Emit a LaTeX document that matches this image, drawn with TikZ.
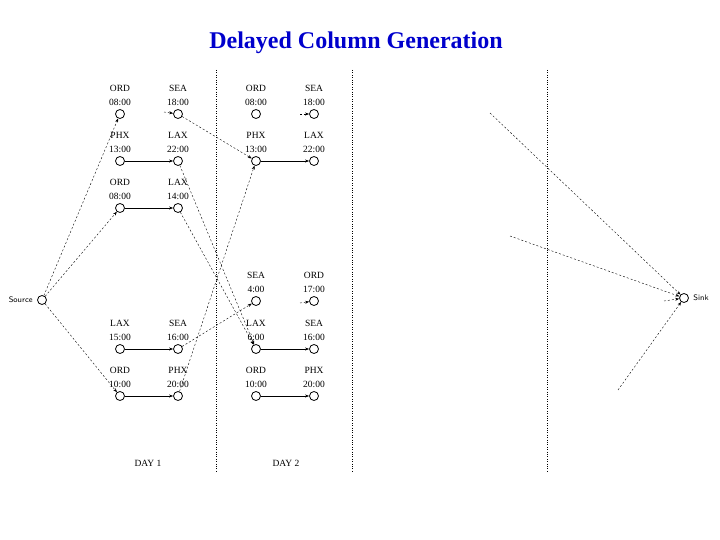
\documentclass[tikz,border=0pt]{standalone}
\usepackage{fontspec}
\setmainfont{Liberation Serif}
\usetikzlibrary{arrows.meta,positioning}
\begin{document}
\begin{tikzpicture}[x=1pt,y=-1pt,
  nd/.style={circle,draw,thick,minimum size=9pt,inner sep=0pt},
  lab/.style={font=\fontsize{9.5}{11}\selectfont,align=center,inner sep=0pt},
  fl/.style={-{Stealth[length=4pt]},thin},
  dl/.style={-{Stealth[length=4pt]},thin,dash pattern=on 2pt off 2pt},
  sep/.style={thin,dotted}]
\useasboundingbox (0,0) rectangle (720,540);
\node[font=\bfseries\fontsize{24}{28}\selectfont,text=blue!80!black] (title) at (356,43) {Delayed Column Generation};
\foreach \n/\x/\y/\a/\t in {
 a1/120/114/ORD/08:00, a2/178/114/SEA/18:00,
 b1/120/161/PHX/13:00, b2/178/161/LAX/22:00,
 c1/120/208/ORD/08:00, c2/178/208/LAX/14:00,
 d1/120/349/LAX/15:00, d2/178/349/SEA/16:00,
 e1/120/396/ORD/10:00, e2/178/396/PHX/20:00,
 f1/256/114/ORD/08:00, f2/314/114/SEA/18:00,
 g1/256/161/PHX/13:00, g2/314/161/LAX/22:00,
 h1/256/301/SEA/4:00, h2/314/301/ORD/17:00,
 i1/256/349/LAX/6:00, i2/314/349/SEA/16:00,
 j1/256/396/ORD/10:00, j2/314/396/PHX/20:00}{
 \node[nd] (\n) at (\x,\y) {};
 \node[lab,above=3pt of \n] (\n l) {\a\\[3pt]\t};
}
\node[nd] (src) at (42,300) {};
\node[font=\sffamily\fontsize{8}{9}\selectfont,left=1pt of src] (srcl) {Source};
\node[nd] (snk) at (684,298) {};
\node[font=\sffamily\fontsize{8}{9}\selectfont,right=1pt of snk] (snkl) {Sink};
\foreach \x in {216,352,547}{\draw[sep] (\x,70) -- (\x,472);}
\node[lab] (day1) at (148,463) {DAY 1};
\node[lab] (day2) at (286,463) {DAY 2};
\foreach \p in {b,c,d,e,g,i,j}{\draw[fl] (\p1) -- (\p2);}
\draw[dl] (src) -- (a1);
\draw[dl] (src) -- (c1);
\draw[dl] (src) -- (e1);
\draw[dl] (a2) -- (g1);
\draw[dl] (b2) -- (i1);
\draw[dl] (c2) -- (i1);
\draw[dl] (e2) -- (g1);
\draw[dl] (d2) -- (h1);
\coordinate (s1) at (164,112);
\coordinate (s2) at (300,114);
\coordinate (s3) at (300,303);
\draw[dl] (s1) -- (a2);
\draw[dl] (s2) -- (f2);
\draw[dl] (s3) -- (h2);
\coordinate (k1) at (490,113);
\coordinate (k2) at (510,236);
\coordinate (k3) at (618,390);
\coordinate (k4) at (664,301);
\draw[dl] (k1) -- (snk);
\draw[dl] (k2) -- (snk);
\draw[dl] (k3) -- (snk);
\draw[dl] (k4) -- (snk);
\end{tikzpicture}
\end{document}
